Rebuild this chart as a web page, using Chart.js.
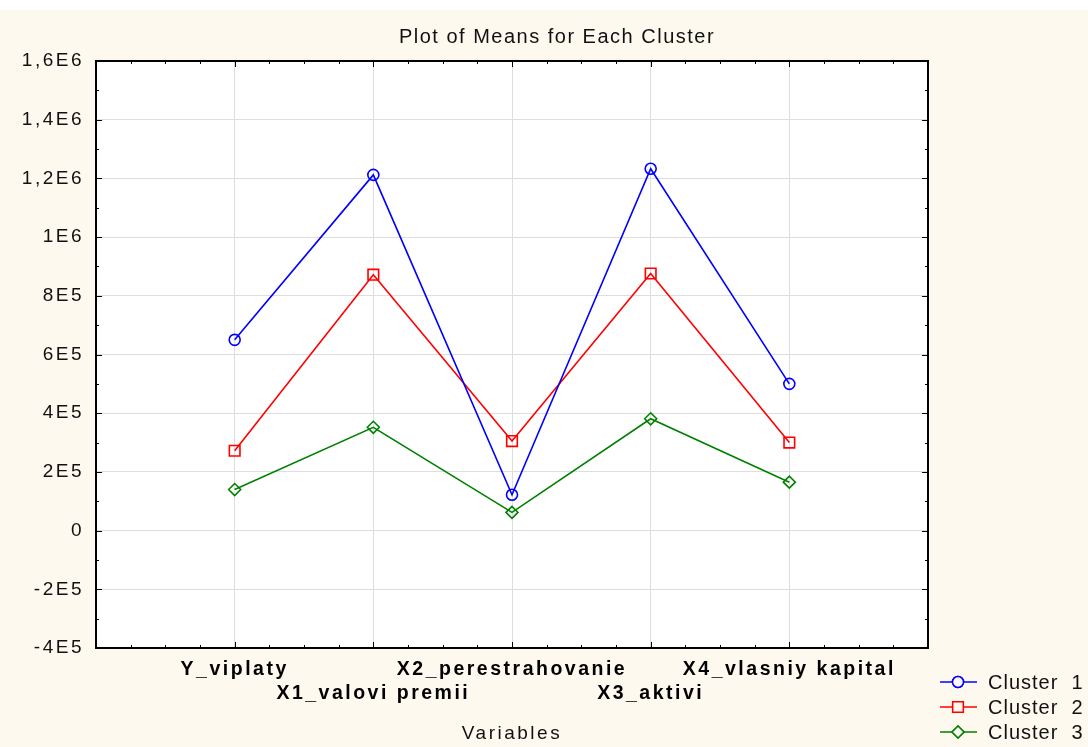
<!DOCTYPE html>
<html>
<head>
<meta charset="UTF-8" />
<title>Plot of Means for Each Cluster</title>
<script src="https://cdn.jsdelivr.net/npm/chart.js"></script>
<style>
  body { margin: 0; background: #fff; }
  canvas { display: block; }
</style>
</head>
<body>
<canvas id="chart" width="1088" height="747"></canvas>
<script>
  // variables (x axis), labels alternate between two rows
  const variables = ['Y_viplaty', 'X1_valovi premii', 'X2_perestrahovanie', 'X3_aktivi', 'X4_vlasniy kapital'];
  const cluster1 = [650000, 1212000, 122000, 1233000, 500000];
  const cluster2 = [272000, 872000, 305000, 876000, 300000];
  const cluster3 = [140000, 352000, 62000, 381000, 165000];
  const yMin = -400000, yMax = 1600000, yStep = 200000;

  const FONT = '"Liberation Sans", Arial, sans-serif';
  const SPACING = '2.5px';

  function fmtE(v) {
    if (Math.abs(v) < 1e-6) return '0';
    const e = Math.floor(Math.log10(Math.abs(v)) + 1e-9);
    const m = Math.round(v / Math.pow(10, e) * 10) / 10;
    return String(m).replace('.', ',') + 'E' + e;
  }

  const toPts = arr => arr.map((v, i) => ({ x: i + 1, y: v }));

  const spacing = {
    id: 'spacing',
    beforeInit(c) { c.ctx.letterSpacing = SPACING; },
    beforeUpdate(c) { c.ctx.letterSpacing = SPACING; },
    beforeLayout(c) { c.ctx.letterSpacing = SPACING; },
    beforeDraw(c) { c.ctx.letterSpacing = SPACING; }
  };

  const backdrop = {
    id: 'backdrop',
    beforeDraw(c) {
      const ctx = c.ctx, a = c.chartArea;
      ctx.save();
      ctx.fillStyle = '#ffffff';
      ctx.fillRect(0, 0, c.width, c.height);
      ctx.fillStyle = '#fdf9ef';
      ctx.fillRect(0, 10, c.width, c.height - 10);
      ctx.fillStyle = '#ffffff';
      ctx.fillRect(a.left, a.top, a.right - a.left, a.bottom - a.top);
      ctx.restore();
    }
  };

  const frame = {
    id: 'frame',
    afterDraw(c) {
      const ctx = c.ctx, a = c.chartArea;
      const xs = c.scales.x, ys = c.scales.y;
      ctx.save();
      ctx.strokeStyle = '#000';
      ctx.lineWidth = 1;
      ctx.beginPath();
      for (let v = 0; v <= 6.001; v += 0.25) {
        const px = Math.round(xs.getPixelForValue(v)) + 0.5;
        const len = Math.abs(v - Math.round(v)) < 1e-6 ? 6 : 3;
        ctx.moveTo(px, a.bottom); ctx.lineTo(px, a.bottom - len);
        ctx.moveTo(px, a.top); ctx.lineTo(px, a.top + len);
      }
      for (let v = yMin; v <= yMax + 1; v += yStep / 2) {
        const py = Math.round(ys.getPixelForValue(v)) + 0.5;
        const len = (Math.round((v - yMin) / (yStep / 2)) % 2 === 0) ? 6 : 3;
        ctx.moveTo(a.left, py); ctx.lineTo(a.left + len, py);
        ctx.moveTo(a.right, py); ctx.lineTo(a.right - len, py);
      }
      ctx.stroke();
      ctx.lineWidth = 2;
      ctx.strokeRect(a.left, a.top, a.right - a.left, a.bottom - a.top);

      // title
      ctx.letterSpacing = '1.5px';
      ctx.fillStyle = '#111';
      ctx.font = '20px ' + FONT;
      ctx.textAlign = 'center';
      ctx.textBaseline = 'middle';
      ctx.fillText('Plot of Means for Each Cluster', 557, 37);

      // legend
      ctx.letterSpacing = '1px';
      ctx.font = '20px ' + FONT;
      ctx.textAlign = 'left';
      c.data.datasets.forEach((ds, i) => {
        const y = 682 + i * 25;
        ctx.strokeStyle = ds.borderColor;
        ctx.lineWidth = 1.5;
        ctx.beginPath();
        ctx.moveTo(940, y); ctx.lineTo(977, y);
        ctx.stroke();
        ctx.fillStyle = '#fdf9ef';
        Chart.helpers.drawPoint(ctx, {
          pointStyle: ds.pointStyle, radius: ds.pointRadius, borderWidth: ds.pointBorderWidth
        }, 958, y);
        ctx.fill();
        ctx.stroke();
        ctx.fillStyle = '#111';
        ctx.fillText(ds.label, 988, y + 1);
      });
      ctx.restore();
    }
  };

  function series(label, data, color, style, r) {
    return {
      label: label,
      data: toPts(data),
      borderColor: color,
      backgroundColor: 'rgba(255,255,255,0)',
      borderWidth: 1.6,
      pointStyle: style,
      pointRadius: r,
      pointHoverRadius: r,
      pointBorderWidth: 1.6,
      pointBackgroundColor: 'rgba(255,255,255,0)',
      pointBorderColor: color,
      tension: 0
    };
  }

  new Chart(document.getElementById('chart'), {
    type: 'line',
    data: {
      datasets: [
        series('Cluster  1', cluster1, '#0000ff', 'circle', 5.5),
        series('Cluster  2', cluster2, '#ff0000', 'rect', 7.5),
        series('Cluster  3', cluster3, '#008000', 'rectRot', 6)
      ]
    },
    options: {
      responsive: false,
      animation: false,
      devicePixelRatio: 1,
      layout: { padding: { top: 61, right: 160, left: 0, bottom: 0 } },
      plugins: { legend: { display: false }, title: { display: false }, tooltip: { enabled: false } },
      scales: {
        x: {
          type: 'linear',
          min: 0, max: 6,
          afterFit: s => { s.height = 99; },
          afterBuildTicks: s => { s.ticks = [0, 1, 2, 3, 4, 5, 6].map(v => ({ value: v })); },
          grid: { color: '#dedede', lineWidth: 1, drawTicks: false },
          border: { display: false },
          ticks: {
            autoSkip: false, maxRotation: 0, padding: 10,
            color: '#000',
            font: { family: FONT, size: 19.5, weight: 'bold', lineHeight: 1.22 },
            callback: v => {
              if (v < 1 || v > 5) return '';
              const name = variables[v - 1];
              return (v - 1) % 2 === 0 ? [name, ''] : ['', name];
            }
          },
          title: {
            display: true, text: 'Variables', color: '#111',
            font: { family: FONT, size: 19 }, padding: { top: 6, bottom: 2 }
          }
        },
        y: {
          min: yMin, max: yMax,
          afterFit: s => { s.width = 96; },
          grid: { color: '#dedede', lineWidth: 1, drawTicks: false },
          border: { display: false },
          ticks: {
            stepSize: yStep, padding: 12, color: '#111',
            font: { family: FONT, size: 19 },
            callback: v => fmtE(v)
          }
        }
      }
    },
    plugins: [spacing, backdrop, frame]
  });
</script>
</body>
</html>
